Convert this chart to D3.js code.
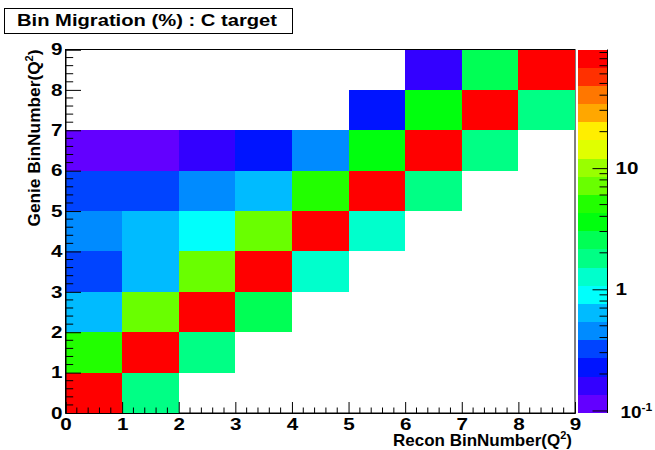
<!DOCTYPE html>
<html>
<head>
<meta charset="utf-8">
<script src="https://cdn.jsdelivr.net/npm/d3@7"></script>
<style>
  html, body { margin: 0; padding: 0; background: #fff; }
  svg { display: block; }
  text { font-family: "Liberation Sans", Arial, Helvetica, sans-serif; font-weight: bold; fill: #000; }
</style>
</head>
<body>
<svg id="chart" width="655" height="450"></svg>
<script>
// ---------------- data ----------------
const titleText = "Bin Migration (%) : C target";
const xTitle = "Recon BinNumber(Q";
const yTitle = "Genie BinNumber(Q";
const xTickValues = [0, 1, 2, 3, 4, 5, 6, 7, 8, 9];
const yTickValues = [0, 1, 2, 3, 4, 5, 6, 7, 8, 9];
const zTickValues = [0.1, 1, 10];
const zTickLabels = [["10", "-1"], ["1", null], ["10", null]];
// one array per Genie bin (y), values per Recon bin (x) 0..8 ; 0 = empty
const genieBin0 = [95.3, 1.8, 0, 0, 0, 0, 0, 0, 0];
const genieBin1 = [5.1, 92.4, 1.8, 0, 0, 0, 0, 0, 0];
const genieBin2 = [0.64, 7.1, 89.6, 2.5, 0, 0, 0, 0, 0];
const genieBin3 = [0.32, 0.64, 7.2, 90.5, 1.27, 0, 0, 0, 0];
const genieBin4 = [0.45, 0.63, 0.9, 7.1, 89.3, 1.27, 0, 0, 0];
const genieBin5 = [0.32, 0.32, 0.45, 0.64, 5.1, 91.2, 1.8, 0, 0];
const genieBin6 = [0.113, 0.113, 0.16, 0.226, 0.45, 3.6, 93.1, 1.8, 0];
const genieBin7 = [0, 0, 0, 0, 0, 0.226, 3.6, 93.6, 1.8];
const genieBin8 = [0, 0, 0, 0, 0, 0, 0.16, 2.5, 94.8];
const genieRows = [genieBin0, genieBin1, genieBin2, genieBin3, genieBin4, genieBin5, genieBin6, genieBin7, genieBin8];

// ---------------- setup ----------------
const svg = d3.select("#chart");
const frame = { left: 65.5, right: 575, top: 49.5, bottom: 413 };
const x = d3.scaleLinear().domain([0, 9]).range([frame.left, frame.right]);
const y = d3.scaleLinear().domain([0, 9]).range([frame.bottom, frame.top]);

const cells = [];
genieRows.forEach((row, j) => row.forEach((v, i) => { if (v > 0) cells.push({ xb: i, yb: j, v }); }));
const zmax = d3.max(cells, d => d.v);
const zmin = zmax * 0.001;
const nLevels = 20, nColors = 50;
const lzmin = Math.log10(zmin), lzmax = Math.log10(zmax);
const dl = (lzmax - lzmin) / nLevels;

function levelColor(i) {
  const k = Math.floor((i + 0.99) * nColors / nLevels);
  const hue = 280 - (k + 1) * (280 / nColors);
  return d3.hsl(hue, 1, 0.5).formatHex();
}
function valueColor(v) {
  let i = Math.floor((Math.log10(v) - lzmin) / dl);
  i = Math.max(0, Math.min(nLevels - 1, i));
  return levelColor(i);
}

// frame
svg.append("rect").attr("x", frame.left).attr("y", frame.top)
  .attr("width", frame.right - frame.left).attr("height", frame.bottom - frame.top)
  .attr("fill", "#fff").attr("stroke", "#000").attr("stroke-width", 1);

// cells
svg.append("g").selectAll("rect").data(cells).join("rect")
  .attr("x", d => x(d.xb))
  .attr("y", d => y(d.yb + 1))
  .attr("width", d => x(d.xb + 1) - x(d.xb))
  .attr("height", d => y(d.yb) - y(d.yb + 1))
  .attr("fill", d => valueColor(d.v))
  .attr("shape-rendering", "crispEdges");

// ---------------- axes ----------------
const stretch = 1.25;
const xMinor = d3.range(0, 9.0001, 0.2).filter(v => Math.abs(v - Math.round(v)) > 1e-6);
const yMinor = xMinor;
const gx = svg.append("g").attr("transform", `translate(0,${frame.bottom})`)
  .call(d3.axisBottom(x).tickValues(xTickValues).tickSize(-11).tickPadding(5.5).tickFormat(d3.format("d")));
gx.select(".domain").attr("stroke", "#000");
gx.selectAll(".tick text").attr("font-size", 16.5).attr("transform", `scale(${stretch},1)`)
  .style("font-family", "'Liberation Sans', Arial, sans-serif").style("font-weight", "bold");
svg.append("g").selectAll("line").data(xMinor).join("line")
  .attr("x1", d => x(d)).attr("x2", d => x(d))
  .attr("y1", frame.bottom).attr("y2", frame.bottom - 5.5).attr("stroke", "#000");

const gy = svg.append("g").attr("transform", `translate(${frame.left},0)`)
  .call(d3.axisLeft(y).tickValues(yTickValues).tickSize(-15.5).tickPadding(2.5).tickFormat(d3.format("d")));
gy.select(".domain").attr("stroke", "#000");
gy.selectAll(".tick text").attr("font-size", 16.5).attr("transform", `scale(${stretch},1)`)
  .style("font-family", "'Liberation Sans', Arial, sans-serif").style("font-weight", "bold");
svg.append("g").selectAll("line").data(yMinor).join("line")
  .attr("y1", d => y(d)).attr("y2", d => y(d))
  .attr("x1", frame.left).attr("x2", frame.left + 7.7).attr("stroke", "#000");

// ---------------- colour bar ----------------
const bar = { left: 577.5, right: 607.5 };
const z = d3.scaleLog().domain([zmin, zmax]).range([frame.bottom, frame.top]);
const bands = d3.range(nLevels);
svg.append("g").selectAll("rect").data(bands).join("rect")
  .attr("x", bar.left)
  .attr("y", i => z(Math.pow(10, lzmin + (i + 1) * dl)))
  .attr("width", bar.right - bar.left)
  .attr("height", i => z(Math.pow(10, lzmin + i * dl)) - z(Math.pow(10, lzmin + (i + 1) * dl)))
  .attr("fill", i => levelColor(i))
  .attr("shape-rendering", "crispEdges");

const zMinor = [];
[0.1, 1, 10].forEach(dec => { for (let m = 2; m <= 9; m++) { const v = dec * m; if (v >= zmin && v <= zmax) zMinor.push(v); } });
const gz = svg.append("g").attr("transform", `translate(${bar.right},0)`)
  .call(d3.axisRight(z).tickValues(zTickValues).tickSize(-15).tickPadding(0).tickFormat(() => ""));
gz.select(".domain").attr("stroke", "#000").attr("d", `M0,${frame.top}V${frame.bottom}`);
svg.append("g").selectAll("line").data(zMinor).join("line")
  .attr("x1", bar.right).attr("x2", bar.right - 8)
  .attr("y1", d => z(d)).attr("y2", d => z(d)).attr("stroke", "#000");
const zl = svg.append("g").selectAll("text").data(zTickValues).join("text")
  .attr("transform", (d, i) => `translate(${bar.right + (zTickLabels[i][1] ? 13 : 8)},${z(d) + 6 + (zTickLabels[i][1] ? 2 : 0)}) scale(${zTickLabels[i][1] ? 1.15 : stretch},1)`)
  .attr("font-size", 16.5);
zl.each(function (d, i) {
  const t = d3.select(this);
  t.append("tspan").text(zTickLabels[i][0]);
  if (zTickLabels[i][1]) t.append("tspan").attr("dy", -7).attr("font-size", 10.5).text(zTickLabels[i][1]);
});

// ---------------- titles ----------------
svg.append("rect").attr("x", 4.5).attr("y", 8.5).attr("width", 288).attr("height", 25)
  .attr("fill", "#fff").attr("stroke", "#000");
svg.append("text").attr("x", 17).attr("y", 25.5).attr("font-size", 16.5)
  .attr("textLength", 260).attr("lengthAdjust", "spacingAndGlyphs").text(titleText);

const xt = svg.append("text").attr("x", 572).attr("y", 445.5).attr("text-anchor", "end").attr("font-size", 17);
xt.append("tspan").text(xTitle);
xt.append("tspan").attr("dy", -7).attr("font-size", 11).text("2");
xt.append("tspan").attr("dy", 7).text(")");

const yt = svg.append("text").attr("transform", `translate(40,${frame.top}) rotate(-90)`)
  .attr("text-anchor", "end").attr("font-size", 17.3);
yt.append("tspan").text(yTitle);
yt.append("tspan").attr("dy", -7).attr("font-size", 11).text("2");
yt.append("tspan").attr("dy", 7).text(")");
</script>
</body>
</html>
